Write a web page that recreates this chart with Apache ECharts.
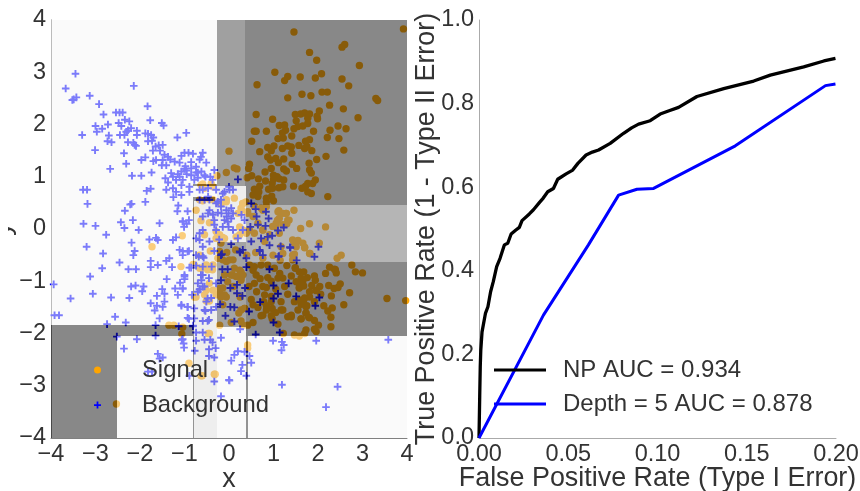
<!DOCTYPE html>
<html><head><meta charset="utf-8">
<script src="https://cdn.jsdelivr.net/npm/echarts@6/dist/echarts.min.js"></script>
<style>html,body{margin:0;padding:0;background:#fff}#c{width:860px;height:491px}</style>
</head><body><div id="c"></div>
<script>
const signalPoints = [
[3.92,3.83],[1.46,3.77],[1.81,3.38],[1.97,3.23],[2.6,3.53],[2.54,3.48],[2.93,3.13],[1.03,3],[1.32,2.92],[1.25,2.84],[.63,2.76],[1.6,2.91],[1.94,2.89],[2.08,2.97],[2.54,2.87],[2.69,2.74],[2.09,2.62],[2.21,2.62],[1.64,2.58],[1.84,2.55],[1.32,2.51],[3.3,2.5],[3.34,2.46],[2.26,2.37],[2.57,2.3],[2.03,2.26],[.61,2.19],[.98,2.1],[1.49,2.19],[1.61,2.2],[1.7,2.22],[1.81,2.2],[1.98,2.16],[1.99,2.11],[2.9,2.13],[1.51,2.07],[1.77,2.12],[1.13,1.98],[1.25,1.99],[1.77,2.02],[1.66,1.97],[1.55,1.96],[1.46,1.92],[1.27,1.89],[1.2,1.84],[2.45,1.97],[2.27,1.89],[2.63,1.92],[1.9,1.87],[.57,1.87],[.61,1.87],[.84,1.87],[1.41,1.78],[1.22,1.74],[1.1,1.73],[.51,1.68],[2.21,1.75],[2.47,1.73],[1.81,1.71],[1.72,1.68],[1.01,1.59],[.87,1.56],[1.2,1.54],[1.32,1.59],[1.4,1.57],[1.57,1.6],[1.7,1.54],[1.75,1.58],[1.86,1.5],[2.58,1.51],[.69,1.48],[.95,1.5],[1.41,1.45],[.87,1.38],[2.18,1.39],[1.97,1.33],[.93,1.32],[1.05,1.35],[1.23,1.34],[1.11,1.27],[1.8,1.26],[1.42,1.24],[1.52,1.16],[1.23,1.15],[1.29,1.11],[.46,1.24],[.44,1.16],[.95,1.16],[1.81,1.13],[1.85,1.07],[.81,1.09],[1,1.03],[1.08,1],[.51,1.02],[.41,.98],[.66,.96],[.82,.92],[1,.95],[1.13,.96],[1.23,.94],[.97,.87],[1.94,.94],[1.88,.87],[1.77,.87],[1.45,.82],[1.12,.79],[1.21,.81],[.69,.82],[.57,.76],[.67,.71],[.89,.76],[.98,.78],[1.64,.78],[1.72,.82],[1.77,.71],[1.85,.68],[2.22,.62],[.54,.65],[.65,.62],[.84,.59],[1,.54],[.96,.63],[.84,.52],
[0,1.49],[.12,1.17],[.18,1.15],[-.06,1.08],[-.27,1.02],[-.59,.86],[1.46,.36],[1.12,.35],[1.29,.3],[1.21,.3],[1.81,.1],[2.17,.04],[1.61,.01],[1.35,.17],[1.3,.1],[1.13,.2],[1.09,.17],[.84,.43],[.72,.4],[.31,.49],[.38,.52],[.27,.4],[.42,.3],[.54,.24],[.65,.11],[.46,-.02],[.31,-.02],[.24,-.11],[.91,-.11],[1.05,.04],[.76,-.02],[.57,-.08],[1.55,-.22],[1.47,-.27],[2.03,-.27],[1.66,-.27],[1.7,-.35],[1.53,-.24],[1.82,-.47],[1.47,-.48],[2.43,-.56],[2.52,-.5],
[2.76,-.69],[2.84,-.82],[3,-.84],[2.26,-.73],[2.39,-.78],[2.41,-.84],[2.17,-.85],[1.58,-.82],[1.68,-.82],[1.76,-.93],[1.94,-.98],[1.49,-.75],[1.86,-1.08],[1.66,-1],[1.58,-1.12],[1.68,-1.09],[2.5,-1.05],[2.45,-1.12],[2.36,-1.14],[2.24,-1.08],[2.71,-1.22],[1.96,-1.18],[2.06,-1.25],[2.3,-1.28],[1.81,-1.3],[1.68,-1.36],[2.58,-1.45],[2.13,-1.47],[2.32,-1.51],[2.22,-1.57],[1.75,-1.47],[1.62,-1.44],[1.73,-1.61],[1.79,-1.69],[1.62,-1.72],[2.29,-1.69],[1.92,-1.75],[2.01,-1.84],[2.29,-1.87],[1.92,-1.92],[1.96,-1.96],[1.73,-1.93],[1.7,-2],[1.58,-2.05],[1.47,-2.03],[3.55,-1.33],[3.97,-1.37],
[1.49,-.74],[1.62,-.94],[1.92,-.9],[2.37,-.77],[1.22,-2],[.57,-.72],[.72,-.69],[.87,-.69],[1.02,-.75],[1.14,-.85],[1.21,-.94],[.61,-.88],[.87,-.93],[1.1,-.94],[.76,-1.1],[.84,-1.12],[.57,-1.04],[1.51,-1.01],[1.62,-1.07],[1.58,-1.13],[1.32,-1.25],[.8,-1.26],[.95,-1.29],[1.17,-1.39],[1.47,-1.39],[1.58,-1.36],[1.7,-1.32],[1.81,-1.2],[1.96,-1.17],[2.04,-1.1],[1.92,-1.39],[.78,-1.39],[.84,-1.47],[.95,-1.39],[.97,-1.52],[.84,-1.55],[1.21,-1.55],[1.73,-1.49],[1.73,-1.61],[1.81,-1.7],[1.62,-1.72],[1.4,-1.65],[1.32,-1.68],[.72,-1.66],[.95,-1.66],[.97,-1.72],[1.1,-1.82],[.54,-1.79],[.42,-1.84],[.27,-1.76],[.31,-1.84],[.22,-1.61],[.35,-1.52],[-.1,-1.26],[-.21,-1.23],[.05,-1.79],[.42,-2.22],[.42,-2.28],[-.33,-2.78],[-.63,-2.81],
[-.06,-.62],[.09,-.59],[.24,-.79],[.31,-.88],[.08,-.88],[-.03,-1.01],[.27,-.94],[-.21,-1.14],[.46,-.69],[.54,-.79],[.76,-.56],[.99,-.5],[1.21,-.47],[1.43,-.5],[1.7,-.36],[1.43,-.59],[1.17,-.34],[1.51,-.34],[1.81,-.47],
[-1.05,-.13],[-.63,.16],[-.44,.12],[-.29,-.05],[-.29,-.18],[-.14,-.16],[-.06,.56],[-.18,.49],[-.59,.54],[-.74,.36],[-.66,.56],[-.36,.56],[-.44,.57],[-1.73,-.34],[-1.08,-.72],[-.42,-.42],[-.66,-.75],[-.48,-.78],[-.36,-.69],[-.78,-1.3],[-.44,-1.04],[-.51,-1.17],[-.29,-1.26],[-.51,-1.38],[-.66,-.5],[-.81,-.68],[-.21,-.43],[-1.35,-1.84],[-1.24,-1.84],[-1.04,-1.88],[-1.06,-2.01],[-.47,-2],[-.9,-2.57],[-.6,-2.81],[-.31,-2.78],[-2.53,-3.35],
[-.55,-.11],[-.18,-.27],[-.1,-.18],[-.21,-.11],[.16,-.15],[.31,.49],[.28,.36],[.2,.3],[-.06,.52],[.12,.59],[-.36,.81],[-.63,.84],[-.4,.87],[-.55,.78],[.76,.36],[.57,.43],[1.1,.33],[1.28,.3],[1.21,.08],[1.32,.17],[1.06,.11],[.42,.33],[.39,-.08],[1.13,-.08],[1.43,-.21],[.98,.05],[.76,-.02],[.8,-.24],[.24,.04],
[-.78,-.69],[-.62,-.75],[-.51,-.69],[-.37,-.78],[-.36,-1.17],[-.55,-1.26],[-.74,-1.3],[-.44,-1.38],[-.18,-1.3],[-.25,-.56],[-.1,-.88],[.05,-.88],[.01,-.59],[-.14,-.59],[.12,-.75],[.27,-.82],[.27,-.98],[.16,-.91],[-.14,-1.13],[-.06,-1.3],[-.14,-1.45],[.27,-1.55],[.35,-1.52],[.54,-1.45],[.76,-1.65],[1.17,-1.55],[1.4,-1.68],[-.44,-2],[-.21,-1.84],[.62,-1.2],[.7,-.95],[.45,-1.1],[.5,-1.35],[.65,-1.5],[1.05,-1.15],[1.25,-1.1],[1.4,-.9],[1.3,-.7],[1.15,-.6],[.95,-1.0],[1.05,-1.6],[1.55,-1.55],[.25,-1.3],[.1,-1.1],[.4,-.5],[.6,-.45],[.15,-.4],[-.05,-.45]
];
const backgroundPoints = [
[-3.45,2.97],[-3.67,2.69],[-3.52,2.47],[-3.43,2.52],[-3.49,2.48],[-3.13,2.55],[-2.92,2.39],[-2.82,2.19],[-2.54,2.23],[-2.46,2.23],[-2.39,2.23],[-2.14,2.74],[-1.83,2.35],[-1.77,2.08],[-1.51,2.03],[-1.47,1.98],[-.96,1.84],[-1.16,1.75],[-3.3,1.8],[-3,1.97],[-2.97,1.86],[-2.85,1.92],[-2.72,2],[-2.7,1.79],[-2.73,1.68],[-2.64,1.66],[-3.01,1.51],[-2.48,2.03],[-2.42,1.97],[-2.34,2.09],[-2.24,2.06],[-2.45,1.8],[-2.35,1.8],[-2.31,1.86],[-2.27,1.89],[-2.2,1.93],[-2.07,1.88],[-2.07,1.8],[-2.27,1.66],[-2.15,1.65],[-2.12,1.61],[-2.09,1.59],[-1.88,1.83],[-1.82,1.82],[-1.82,1.68],[-1.75,1.8],[-1.7,1.75],[-1.73,1.69],
[-3.28,.75],[-3.19,.75],[-3.18,.48],[-3.27,.1],[-3,.06],[-2.76,-.11],[-2.43,.13],[-2.35,.02],[-2.16,.17],[-2.03,-.02],[-2.34,.35],[-2.22,.47],[-2.19,.48],[-1.88,.52],[-1.85,.73],[-1.76,.77],[-1.56,.11],[-2.19,-.26],[-1.79,-.2],[-1.64,-.17],[-1.6,-.21],[-1.26,-.21],[-1.19,-.16],[-1.25,.61],[-1.14,.45],[-1.16,.34],[-.93,.34],[-.9,.17],[-1.04,.15],[-1.01,.04],[-2.67,1.15],[-2.18,1.02],[-1.97,1.02],[-1.74,1.08],[-2.31,1.25],[-2.36,1.45],[-1.97,1.32],[-1.88,1.37],
[-1.71,1.5],[-1.65,1.58],[-1.58,1.6],[-1.49,1.61],[-1.55,1.5],[-1.64,1.32],[-1.7,1.3],[-1.51,1.22],[-1.45,1.42],[-1.37,1.38],[-1.32,1.33],[-1.22,1.29],[-1.11,1.27],[-1.49,1.32],[-1.41,1.22],[-1.3,1.07],[-1.43,.97],[-1.37,.89],[-1.26,1],[-1.15,1.05],[-1.07,1.1],[-.96,1.12],[-.85,1.16],[-.74,1.19],[-.66,1.33],[-.59,1.46],[-.63,1.38],[-.51,1.27],[-1.07,1.4],[-1,1.46],[-.91,1.46],[-.81,1.44],[-1.11,1],[-1.04,.94],[-1.19,.94],[-1.07,.84],[-1.26,.78],[-1.19,.71],[-1.07,.65],[-1.41,.75],[-.85,1.03],[-.74,1.08],[-.89,.81],[-.89,.71],[-.66,.75],[-.47,.78],[-.53,1],[-.42,1],[-.33,1.13],[-.37,.94],[-.47,.62],[-.25,.52],[-.1,.71],[.01,.75],[-.98,1.2],[-.85,1.28],[-.95,1.05],[-1.0,1.15],[-.7,.98],[-.62,1.1],
[-.7,1.08],[-.55,1.03],[-.78,.94],[.2,.95],[0,.81],[-.59,.75],[-.29,.75],[-.14,.68],[.09,.75],[-.66,.56],[-.55,.56],[-.44,.56],[-.18,.56],[-.29,.49],[-.18,.43],[-.44,.36],[-.36,.27],[-.25,.31],[-.17,.3],[-.06,.36],[.05,.4],[-.01,.3],[-.05,.24],[-.1,.17],[.05,.2],[.09,.3],[-.59,.24],[-.47,.3],[-.33,.17],[-.33,.08],[-.29,-.02],[-.14,.04],[-.01,.04],[.09,-.02],[-.03,.14],[.28,.27],[.35,.17],[.31,-.02],[.48,.04],[.65,.08],[.62,.24],[.5,.49],[.6,.38],[.83,.33],[.89,.2],[.82,.06],[1.1,-.03],[1.23,.03],[.72,-.18],[.87,-.15],[.97,-.13],[.91,-.31],[1.16,-.33],[1.37,-.35],[.05,-.29],[.24,-.43],[.31,-.4],[.69,-.4],[.5,-.24],[.2,-.18],[-.16,-.48],[.76,-.5],[1.12,-.52],[-1.04,.14],[-.95,.1],[-.66,-.08],[-.59,-.02],[-.66,-.21],[-.74,-.18],[-.59,-.34],[-.33,-.42],[-1.04,-.42],[-.93,-.43],[-.74,-.5],[-.59,-.52],[-.44,-.24],[-.22,-.2],
[-.18,-.5],[.25,-.45],[.39,-.56],[.69,-.42],[1.11,-.53],[1.92,-.53],[2.01,-.34],[1.52,-.6],[1.38,-.36],[.91,-.77],[.39,-.73],[-.15,-.77],[-.03,-.77],[-.18,-.98],[.18,-1.07],[.03,-1.13],[.36,-1.13],[.3,-1.28],[.18,-1.23],[1,-1.08],[1.34,-1.04],[1.1,-1.24],[1,-1.33],[1.51,-1.29],[2.03,-1.31],[.7,-1.4],[-.2,-1.44],[.03,-1.49],[.12,-1.5],[.45,-1.58],[1.94,-1.47],[-.08,-1.66],[.12,-1.77],[1,-1.79],[.6,-2.02],[1.14,-1.98],
[-.39,-.72],[-.59,-.72],[-.89,-.74],[-.59,-.88],[-.62,-.98],[-.7,-1.04],[-1,-.91],[-1.04,-1.14],[-.55,-1.1],[-.66,-1.16],[-.29,-1.04],[-.48,-1.33],[-.4,-1.32],[-.51,-1.39],[-1.07,-1.45],[-.93,-1.49],[-.55,-1.55],[-.4,-1.55],[-.29,-1.49],[-.93,-1.7],[-.78,-1.71],[-.59,-1.76],[-.48,-1.76],[-.81,-1.85],[-.74,-1.98],[-.59,-1.98],[-1.06,-2.12],[-.74,-2.14],[-.55,-2.12],[-.37,-2.17],[-.18,-2.08],
[-3.2,-.34],[-2.83,-.47],[-2.46,-.64],[-2.85,-.75],[-2.12,-.42],[-2.15,-.5],[-2.26,-.77],[-2.09,-.77],[-1.76,-.61],[-1.76,-.73],[-1.6,-.69],[-1.41,-.61],[-1.34,-.56],[-1.28,-.73],[-1.4,-.96],[-3.12,-.91],[-3.94,-1.06],[-3.56,-1.33],[-3.06,-1.24],[-2.65,-1.31],[-2.24,-1.32],[-2.2,-1.1],[-2.1,-1.08],[-1.92,-1.1],[-1.95,-1.19],[-1.5,-1.15],[-1.45,-1.24],[-1.62,-1.28],[-1.76,-1.42],[-1.62,-1.47],[-1.49,-1.49],[-1.45,-1.39],[-1.67,-1.56],[-1.56,-1.71],[-1.21,-1.14],[-1.1,-1.03],[-1.04,-1.14],[-1.15,-1.26],[-.83,-1.26],[-1.07,-1.47],[-.93,-1.49],[-.78,-1.52],[-3.92,-1.65],[-3.82,-1.65],[-2.56,-1.68],[-2.74,-1.82],[-2.32,-1.79],[-1.65,-1.84],[-1.65,-2.04],[-2.52,-2.06],[-2.07,-2.11],[-2.36,-2.29],[-1.13,-1.86],[-.9,-1.72],[-.81,-1.86],[-1.04,-2.11],[-1.02,-2.19],[-1.01,-2.27],[-.77,-2.33],[-1.6,-2.39],[-1.56,-2.48],[-1.49,-2.46],[-1.82,-2.73],[-1.73,-2.73],[-.89,-2.81],[-.33,-2.92],[0,-2.89],[-.18,-3.2],[-.42,-2.12],[-.3,-2.28],[-.45,-2.43],[-.33,-2.46],[-.45,-2.3],[-.45,-1.74],[-.53,-1.57],[-.66,-1.15],[-.59,-1.1],[-.7,-1.2],[-.63,-.88],[-.45,-.94],[-1,-.88],[-1,-.96],[-.85,-.74],[-.74,-.7],[-.68,-.53],[-.57,-.55],[-1.11,-.4],[-1.04,-.5],[-.9,-.42],
[.99,-2.14],[1.19,-2.16],[1.23,-2.22],[1.18,-2.32],[1.96,-2.14],[3.58,-2.12],[1.19,-2.98],[2.44,-3.02],[2.18,-3.41],[.2,-2.34],[.12,-2.41],[.05,-2.52],[.35,-2.35],[.46,-2.43],[.5,-2.56],[.3,-2.6],[.27,-2.72],[.39,-2.81],[.01,-2.9],[.25,-1.92]
];
const rocFpr = [0,.0004,.0007,.001,.0017,.0036,.005,.0065,.008,.0099,.0118,.0142,.0161,.018,.0205,.0226,.0241,.0282,.0305,.0338,.036,.0385,.0417,.0441,.0488,.0525,.0554,.06,.0635,.067,.0735,.081,.0855,.0894,.0959,.1015,.1065,.1118,.1221,.1371,.1539,.1632,.1819,.1932,.1997];
const rocNp = [0,.1,.17,.21,.254,.298,.314,.35,.374,.41,.43,.462,.466,.488,.497,.504,.52,.536,.546,.563,.574,.589,.597,.619,.632,.641,.657,.677,.684,.689,.705,.729,.742,.751,.759,.775,.783,.791,.817,.836,.854,.868,.888,.902,.908];
const depthFpr = [0,.0361,.0613,.0782,.0885,.0978,.1436,.1941,.1997];
const depthTpr = [0,.294,.462,.581,.595,.597,.699,.843,.847];
const regionBounds = [
[-4,-.82,-1.84,4,245],[-2.51,-.82,-4,-2.04,245],[-.82,-.275,.86,4,245],[-.82,-.275,.61,.82,245],[-.32,-.275,.54,.61,245],[.43,4,-4,-2.04,245],[-.275,.39,-4,-1.88,245],
[-.78,-.275,-4,.54,221],[-.82,-.78,-4,.54,40],[.39,.43,-4,-2.04,40],[-.82,-.275,.82,.86,40],[-.82,-.32,.54,.61,40],
[-4,-2.51,-4,-1.84,17],[-2.51,-.82,-2.04,-1.84,17],[-.275,.39,-1.88,-.25,72],[-.275,.39,-.25,.82,221],
[-.275,.35,.82,4,65],[.35,4,.82,4,17],[.39,4,.46,.82,17],[.39,4,-.63,.46,107],[.39,4,-2.04,-.63,17]
];
const xTicksLeft = [-4,-3,-2,-1,0,1,2,3,4];
const plus = 'path://M-1 -4H1V-1H4V1H1V4H-1V1H-4V-1H-1Z';
const font = '"Liberation Sans", Arial, sans-serif';
const fs = 23.5, ink = '#333333';
const minusFmt = v => String(v).replace('-', '\u2212');
const lab = f => ({fontFamily:font,fontSize:fs,color:ink,margin:5,hideOverlap:false,showMinLabel:true,showMaxLabel:true,formatter:f});
const ax = (extra, color) => Object.assign({
  nameLocation:'middle', nameMoveOverlap:false, nameTextStyle:{fontFamily:font,fontSize:26.9,color:ink},
  axisLine:{show:true,onZero:false,lineStyle:{color,width:1}}, axisTick:{show:false}, splitLine:{show:false}
}, extra);
const chart = echarts.init(document.getElementById('c'), null, {renderer:'canvas'});
chart.setOption({
  animation:false, backgroundColor:'#fff',
  grid:[{left:51,top:20,width:356,height:418,outerBoundsMode:'none'},{left:479,top:20,width:357,height:418,outerBoundsMode:'none'}],
  xAxis:[
    ax({gridIndex:0,type:'value',min:xTicksLeft[0],max:xTicksLeft[8],interval:1,name:'x',nameGap:28,axisLabel:lab(minusFmt)},'#808080'),
    ax({gridIndex:1,type:'value',min:0,max:.2,interval:.05,name:'False Positive Rate (Type I Error)',nameGap:27,axisLabel:lab(v=>v.toFixed(2))},'#aaaaaa')
  ],
  yAxis:[
    ax({gridIndex:0,type:'value',min:-4,max:4,interval:1,name:'y',nameGap:35,axisLabel:lab(minusFmt)},'#808080'),
    ax({gridIndex:1,type:'value',min:0,max:1,interval:.2,name:'True Positive Rate (1 - Type II Error)',nameGap:39,axisLabel:lab(v=>v.toFixed(1))},'#aaaaaa')
  ],
  legend:[
    {left:94,top:358,orient:'vertical',itemWidth:7,itemHeight:7,itemGap:11,z:20,padding:0,
     textStyle:{fontFamily:font,fontSize:23.8,color:ink,padding:[0,0,0,36]},selectedMode:false,
     data:[{name:'Signal',icon:'circle'},{name:'Background',icon:plus}]},
    {left:494,top:358,orient:'vertical',itemWidth:52,itemHeight:3,itemGap:10,z:20,padding:0,
     textStyle:{fontFamily:font,fontSize:24,color:ink,padding:[0,0,0,12]},selectedMode:false,
     data:[{name:'NP AUC = 0.934',icon:'rect'},{name:'Depth = 5 AUC = 0.878',icon:'rect'}]}
  ],
  graphic:[{type:'rect',z:100,left:0,top:215,shape:{width:8,height:30},style:{fill:'#fff'}}],
  series:[
    {name:'Signal',type:'scatter',xAxisIndex:0,yAxisIndex:0,z:2,symbol:'circle',symbolSize:7.4,itemStyle:{color:'#ffa500',opacity:1},data:signalPoints},
    {name:'Background',type:'scatter',xAxisIndex:0,yAxisIndex:0,z:3,symbol:plus,symbolSize:7.6,itemStyle:{color:'#0000ff',opacity:1},data:backgroundPoints},
    {name:'regions',type:'custom',xAxisIndex:0,yAxisIndex:0,z:5,silent:true,clip:true,
     encode:{x:[0,1],y:[2,3]},data:regionBounds,
     renderItem:(p,api)=>{
       const a=api.coord([api.value(0),api.value(3)]),b=api.coord([api.value(1),api.value(2)]);
       const x=Math.round(a[0]),y=Math.round(a[1]),g=api.value(4);
       return {type:'rect',shape:{x,y,width:Math.round(b[0])-x,height:Math.round(b[1])-y},style:{fill:`rgba(${g},${g},${g},0.5)`}};
     }},
    {name:'NP AUC = 0.934',type:'line',xAxisIndex:1,yAxisIndex:1,z:3,showSymbol:false,symbol:'none',lineStyle:{color:'#000',width:3.3},itemStyle:{color:'#000'},data:rocFpr.map((f,i)=>[f,rocNp[i]])},
    {name:'Depth = 5 AUC = 0.878',type:'line',xAxisIndex:1,yAxisIndex:1,z:4,showSymbol:false,symbol:'none',lineStyle:{color:'#0000ff',width:3},itemStyle:{color:'#0000ff'},data:depthFpr.map((f,i)=>[f,depthTpr[i]])}
  ]
});
</script></body></html>
